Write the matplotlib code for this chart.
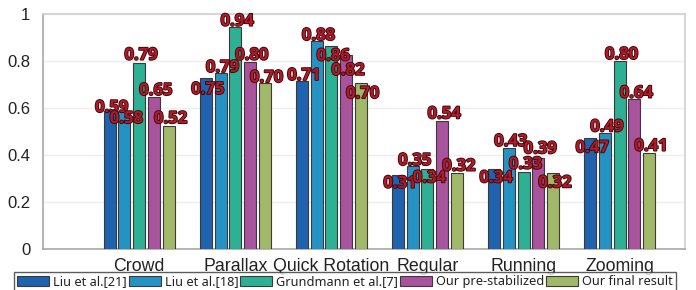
import matplotlib
matplotlib.use("Agg")
import matplotlib.pyplot as plt
import matplotlib.patheffects as pe
import numpy as np

categories = ["Crowd", "Parallax", "Quick Rotation", "Regular", "Running", "Zooming"]
series_names = ["Liu et al.[21]", "Liu et al.[18]", "Grundmann et al.[7]",
                "Our pre-stabilized", "Our final result"]

liu21 = [0.587, 0.728, 0.715, 0.316, 0.339, 0.471]
liu18 = [0.587, 0.749, 0.885, 0.353, 0.430, 0.492]
grundmann = [0.793, 0.946, 0.862, 0.339, 0.329, 0.800]
pre_stab = [0.647, 0.797, 0.826, 0.543, 0.386, 0.640]
final = [0.523, 0.706, 0.706, 0.325, 0.322, 0.410]

liu21_lbl = ["0.59", "0.75", "0.71", "0.31", "0.34", "0.47"]
liu18_lbl = ["0.58", "0.79", "0.88", "0.35", "0.43", "0.49"]
grundmann_lbl = ["0.79", "0.94", "0.86", "0.34", "0.33", "0.80"]
pre_stab_lbl = ["0.65", "0.80", "0.82", "0.54", "0.39", "0.64"]
final_lbl = ["0.52", "0.70", "0.70", "0.32", "0.32", "0.41"]

yticks = [0, 0.2, 0.4, 0.6, 0.8, 1.0]
ytick_labels = ["0", "0.2", "0.4", "0.6", "0.8", "1"]

# style: label vertical displacement in pixels (positive = downward)
label_dy = [
    [-4, 11, -6, 8, 8, 9],
    [7, -6, -6, -6, -7, -7],
    [-8, -6, 9, 8, -8, -7],
    [-7, -7, 15, -8, -10, -6],
    [-8, -6, 10, -7, 9, -7],
]
colors = ["#1f62ae", "#2592c4", "#2db094", "#a9539c", "#a1b868"]

series = [liu21, liu18, grundmann, pre_stab, final]
labels = [liu21_lbl, liu18_lbl, grundmann_lbl, pre_stab_lbl, final_lbl]

DPI = 100
fig = plt.figure(figsize=(6.96, 2.90), dpi=DPI)
W, H = 696, 290
ax = fig.add_axes([43 / W, 1 - 249 / H, (685 - 43) / W, (249 - 14) / H])

x = np.arange(1, len(categories) + 1)
slot = 0.153
bw = 0.125
px2pt = 72.0 / DPI

for i, (vals, lbls) in enumerate(zip(series, labels)):
    xs = x + (i - 2) * slot
    ax.bar(xs, vals, width=bw, color=colors[i], edgecolor="#3a3a3a",
           linewidth=0.8, label=series_names[i], zorder=3)
    for j, (xv, v, t) in enumerate(zip(xs, vals, lbls)):
        txt = ax.annotate(t, xy=(xv, v), xytext=(2 * px2pt, -label_dy[i][j] * px2pt),
                          textcoords="offset points", ha="center", va="center",
                          fontsize=12, fontweight="bold", color="#b01a2a",
                          family="Open Sans", zorder=5)
        txt.set_path_effects([pe.Stroke(linewidth=1.3, foreground="#3a0808"), pe.Normal()])

ax.set_xlim(0, 6.68)
ax.set_ylim(0, 1.0)
ax.set_yticks(yticks)
ax.set_yticklabels(ytick_labels, family="Liberation Sans", fontsize=12, color="#222222")
ax.set_xticks(x)
ax.set_xticklabels(categories, family="Liberation Sans", fontsize=12.8, color="#222222")
ax.tick_params(axis="both", length=0)
ax.tick_params(axis="y", pad=9)
ax.tick_params(axis="x", pad=6.5)
ax.yaxis.grid(True, color="#eeeeee", linewidth=1.0, zorder=0)
ax.set_axisbelow(True)
for s in ["top", "right"]:
    ax.spines[s].set_color("#d0d0d0")
    ax.spines[s].set_linewidth(1.2)
for s in ["left", "bottom"]:
    ax.spines[s].set_color("#a8a8a8")
    ax.spines[s].set_linewidth(1.2)

leg = fig.legend(loc="upper left", bbox_to_anchor=(14 / W, 1 - 275 / H, (676 - 14) / W, 0.01),
                 mode="expand", ncol=5, frameon=True, fancybox=False,
                 prop={"family": "Noto Sans", "size": 9.2},
                 handlelength=2.5, handleheight=0.9, handletextpad=0.3,
                 columnspacing=0.8, borderpad=0.25, borderaxespad=0)
leg.get_frame().set_edgecolor("#333333")
leg.get_frame().set_linewidth(1.0)
for t in leg.get_texts():
    t.set_color("#222222")

fig.savefig("out.png", dpi=DPI)
